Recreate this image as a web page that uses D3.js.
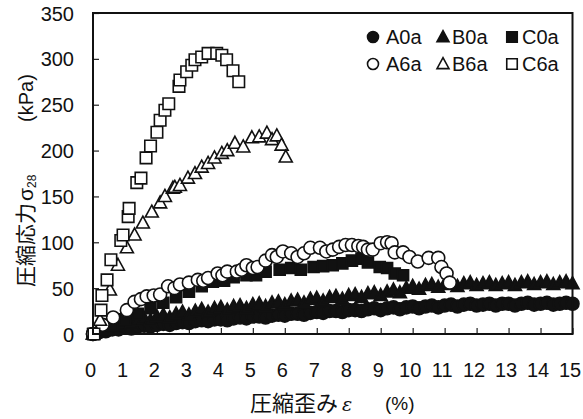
<!DOCTYPE html>
<html><head><meta charset="utf-8">
<script src="https://cdn.jsdelivr.net/npm/d3@7"></script>
<style>
html,body{margin:0;padding:0;background:#fff;}
text{font-family:"Liberation Sans",Arial,sans-serif;fill:#111;}
</style></head>
<body><svg id="c" width="583" height="419"></svg>
<script>
// ---- data (strain %, stress kPa) ----
const xTicks = [0,1,2,3,4,5,6,7,8,9,10,11,12,13,14,15];
const yTicks = [0,50,100,150,200,250,300,350];
const seriesNames = ["A0a","B0a","C0a","A6a","B6a","C6a"];

const A0a = [[0,0],[0.2,2],[0.4,3],[0.6,5],[0.8,5],[1.0,7],[1.2,6],[1.4,8],[1.6,9],[1.8,8],[2.0,10],[2.2,11],[2.4,10],[2.6,12],[2.8,13],[3.0,12],[3.2,14],[3.4,15],[3.6,14],[3.8,16],[4.0,16],[4.2,15],[4.4,17],[4.6,18],[4.8,17],[5.0,19],[5.2,19],[5.4,18],[5.6,20],[5.8,21],[6.0,20],[6.2,22],[6.4,22],[6.6,21],[6.8,23],[7.0,24],[7.2,23],[7.4,25],[7.6,25],[7.8,24],[8.0,26],[8.2,26],[8.4,25],[8.6,27],[8.8,28],[9.0,26],[9.2,28],[9.4,29],[9.6,27],[9.8,29],[10.0,30],[10.2,28],[10.4,30],[10.6,31],[10.8,29],[11.0,31],[11.2,32],[11.4,30],[11.6,32],[11.8,33],[12.0,31],[12.2,32],[12.4,33],[12.6,31],[12.8,33],[13.0,33],[13.2,31],[13.4,33],[13.6,34],[13.8,32],[14.0,33],[14.2,34],[14.4,32],[14.6,33],[14.8,34],[15.0,33]];
const B0a = [[0,0],[0.2,4],[0.4,7],[0.6,9],[0.8,11],[1.0,13],[1.2,12],[1.4,15],[1.6,17],[1.8,15],[2.0,19],[2.2,21],[2.4,18],[2.6,22],[2.8,24],[3.0,21],[3.2,25],[3.4,27],[3.6,24],[3.8,28],[4.0,29],[4.2,26],[4.4,30],[4.6,31],[4.8,28],[5.0,32],[5.2,33],[5.4,30],[5.6,34],[5.8,35],[6.0,32],[6.2,36],[6.4,37],[6.6,34],[6.8,38],[7.0,39],[7.2,36],[7.4,40],[7.6,41],[7.8,38],[8.0,42],[8.2,43],[8.4,40],[8.6,44],[8.8,45],[9.0,42],[9.2,46],[9.4,48],[9.6,45],[9.8,50],[10.0,52],[10.2,49],[10.4,53],[10.6,54],[10.8,51],[11.0,54],[11.2,55],[11.4,52],[11.6,55],[11.8,56],[12.0,53],[12.2,55],[12.4,56],[12.6,53],[12.8,55],[13.0,56],[13.2,53],[13.4,56],[13.6,57],[13.8,54],[14.0,56],[14.2,57],[14.4,54],[14.6,56],[14.8,57],[15.0,55]];
const C0a = [[0,0],[0.3,5],[0.6,10],[1.0,16],[1.4,22],[1.8,28],[2.2,34],[2.6,40],[3.0,46],[3.4,52],[3.75,57],[4.1,58],[4.4,62],[4.8,64],[5.1,64],[5.4,68],[5.84,70],[6.2,72],[6.5,70],[6.9,73],[7.2,74],[7.5,75],[7.8,77],[8.1,80],[8.4,82],[8.6,78],[8.97,73],[9.2,72],[9.44,66],[9.7,64]];
const A6a = [[0,0],[0.3,10],[0.63,18],[1.06,26],[1.3,35],[1.5,38],[1.68,41],[1.9,42],[2.1,43],[2.35,52],[2.55,50],[2.72,54],[3.0,56],[3.28,59],[3.45,58],[3.6,61],[3.9,66],[4.05,64],[4.2,68],[4.5,68],[4.65,70],[4.8,75],[5.0,72],[5.15,73],[5.4,80],[5.6,86],[5.75,84],[5.94,90],[6.2,88],[6.4,84],[6.6,88],[6.8,94],[7.1,94],[7.3,90],[7.5,92],[7.7,95],[7.9,97],[8.1,97],[8.3,96],[8.45,95],[8.6,92],[8.75,92],[9.0,99],[9.2,100],[9.34,99],[9.44,89],[9.7,89],[9.9,84],[10.16,79],[10.5,83],[10.8,83],[10.9,73],[11.06,66],[11.16,56]];
const B6a = [[0,0],[0.22,15],[0.53,48],[0.78,75],[1.06,94],[1.3,108],[1.56,121],[1.84,133],[2.1,143],[2.25,150],[2.5,159],[2.56,160],[2.72,162],[2.97,170],[3.19,175],[3.4,182],[3.6,186],[3.8,192],[4.03,197],[4.2,200],[4.44,208],[4.7,204],[4.97,214],[5.2,215],[5.44,219],[5.6,212],[5.75,216],[5.9,206],[6.03,193]];
const C6a = [[0.03,0],[0.25,26],[0.28,42],[0.44,59],[0.56,81],[0.87,102],[0.94,108],[1.1,128],[1.13,137],[1.37,165],[1.5,170],[1.66,192],[1.8,205],[2.0,220],[2.1,233],[2.25,244],[2.37,251],[2.69,270],[2.72,277],[2.93,286],[3.09,293],[3.19,299],[3.4,302],[3.6,306],[3.87,306],[4.03,304],[4.18,299],[4.38,287],[4.56,275]];

const svg = d3.select("#c");
const L = 93, R = 572.5, T = 13, B = 334;
const x = d3.scaleLinear().domain([0,15]).range([L,R]);
const y = d3.scaleLinear().domain([0,350]).range([B,T]);

// marker paths
function tri(s){const h=s*0.92;return `M0,${-h*0.58}L${s/2},${h*0.42}L${-s/2},${h*0.42}Z`;}
function sq(s){const h=s/2;return `M${-h},${-h}H${h}V${h}H${-h}Z`;}
function circ(s){const r=s/2;return `M${r},0A${r},${r} 0 1,1 ${-r},0A${r},${r} 0 1,1 ${r},0Z`;}
const styles = {
  A0a:{d:circ(13), fill:"#111", stroke:"#111"},
  B0a:{d:tri(13), fill:"#111", stroke:"#111"},
  C0a:{d:sq(11), fill:"#111", stroke:"#111"},
  A6a:{d:circ(13), fill:"#fff", stroke:"#111"},
  B6a:{d:tri(13), fill:"#fff", stroke:"#111"},
  C6a:{d:sq(11.5), fill:"#fff", stroke:"#111"}
};
const data = {A0a,B0a,C0a,A6a,B6a,C6a};

// axes (ticks inward)
const gx = svg.append("g").attr("transform",`translate(0,${B})`)
  .call(d3.axisBottom(x).tickValues(xTicks).tickSize(-6).tickPadding(29).tickFormat(d3.format("d")));
const gy = svg.append("g").attr("transform",`translate(${L},0)`)
  .call(d3.axisLeft(y).tickValues(yTicks).tickSize(-6).tickPadding(19).tickFormat(d3.format("d")));
[gx,gy].forEach(g=>{
  g.select(".domain").remove();
  g.selectAll("line").attr("stroke","#222").attr("stroke-width",1.2);
  g.selectAll("text").style("font-size","20px").attr("fill","#111")
   .style("font-family","'Liberation Sans',Arial,sans-serif");
});
gx.selectAll("text").attr("dx",-3);
gy.selectAll("text").attr("dy","0.35em");

// series
seriesNames.forEach(n=>{
  const st = styles[n];
  svg.append("g").selectAll("path").data(data[n]).join("path")
    .attr("d",st.d).attr("transform",d=>`translate(${x(d[0])},${y(d[1])})`)
    .attr("fill",st.fill).attr("stroke",st.stroke).attr("stroke-width",1.6);
});

// frame
svg.append("rect").attr("x",L).attr("y",T).attr("width",R-L).attr("height",B-T)
  .attr("fill","none").attr("stroke","#111").attr("stroke-width",2);

// legend
const legRows = [["A0a","B0a","C0a"],["A6a","B6a","C6a"]];
const legX = [373,443,512], legTx = [386,452,522], legY = [37,64];
legRows.forEach((row,ri)=>row.forEach((n,ci)=>{
  const st = styles[n];
  const sd = n[0]==="A"?circ(11):(n[0]==="B"?tri(12):sq(10.5));
  svg.append("path").attr("d",sd).attr("transform",`translate(${legX[ci]},${legY[ri]})`)
    .attr("fill",st.fill).attr("stroke","#111").attr("stroke-width",1.6);
  svg.append("text").attr("x",legTx[ci]).attr("y",legY[ri]).attr("dy","0.35em")
    .style("font-size","20px").text(n);
}));

// axis titles
const cjk = "'Noto Sans CJK JP','Liberation Sans',sans-serif";
const yt = svg.append("text").attr("transform","translate(33,287) rotate(-90)")
  .attr("text-anchor","start").style("font-size","21px").style("font-family",cjk);
yt.append("tspan").text("圧縮応力");
yt.append("tspan").attr("dx",2).style("font-family","'Liberation Sans',sans-serif").text("σ");
yt.append("tspan").attr("dy",3).style("font-size","12px").style("font-family","'Liberation Sans',sans-serif").text("28");
svg.append("text").attr("transform","translate(33,98) rotate(-90)")
  .attr("text-anchor","middle").style("font-size","20px").text("(kPa)");

const xt = svg.append("text").attr("x",250).attr("y",411).attr("text-anchor","start")
  .style("font-size","22px").style("font-family",cjk);
xt.append("tspan").text("圧縮歪み");
xt.append("tspan").attr("dx",4).style("font-family","'DejaVu Serif',serif").style("font-style","italic").style("font-size","19px").text("ε");
svg.append("text").attr("x",385).attr("y",410).attr("text-anchor","start")
  .style("font-size","19px").text("(%)");
</script></body></html>
